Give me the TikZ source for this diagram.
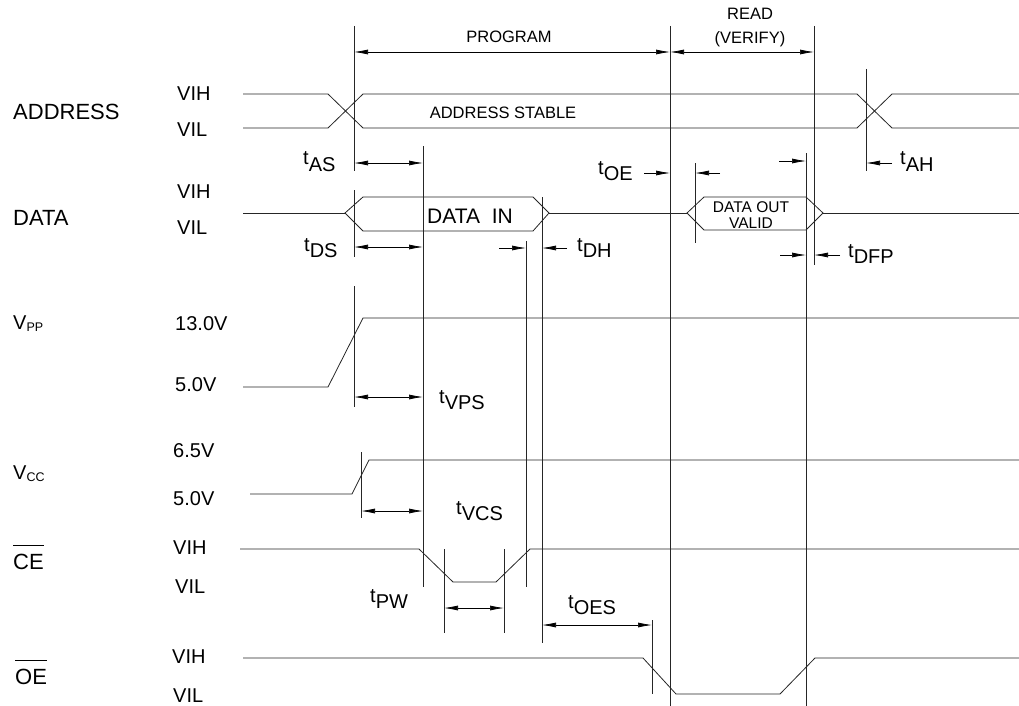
\documentclass[tikz,border=0pt]{standalone}
\usepackage{fontspec}
\setmainfont{Liberation Sans}
\usetikzlibrary{arrows.meta}
\newcommand{\fs}[1]{\fontsize{#1}{#1}\selectfont}
\newcommand{\tlab}[1]{\raisebox{6pt}{t}#1}
\newcommand{\vsub}[1]{V\raisebox{-2pt}{\fs{12.5}#1}}
\newcommand{\ovl}[1]{\setbox0\hbox{#1}\rlap{\raisebox{\dimexpr\ht0+8pt\relax}{\rule{\wd0}{0.9pt}}}\box0}

\begin{document}
\begin{tikzpicture}[x=1pt,y=-1pt,
        sig/.style={line width=0.8pt,draw=black!85},
        guide/.style={line width=0.7pt,draw=black!85},
        dim/.style={line width=0.7pt,{Latex[length=14pt,width=5pt]}-{Latex[length=14pt,width=5pt]}},
        arr/.style={line width=0.7pt,-{Latex[length=14pt,width=5pt]}},
        lbl/.style={inner sep=0pt,anchor=base west,font=\fs{20}},
        big/.style={inner sep=0pt,anchor=base west,font=\fs{22}},
        txt/.style={inner sep=0pt,anchor=base,font=\fs{16.5}}]
        \useasboundingbox (0,0) rectangle (1019,706);

        \draw (354,52) coordinate (pstart);
        \draw (670,52) coordinate (rstart);
        \draw (814,52) coordinate (rend);

        \node[big] (addr) at (13,120) {ADDRESS};
        \node[lbl] (addrh) at (177,101) {VIH};
        \node[lbl] (addrl) at (177,136) {VIL};
        \node[big] (data) at (13,225) {DATA};
        \node[lbl] (datah) at (177,198) {VIH};
        \node[lbl] (datal) at (177,234) {VIL};
        \node[lbl] (vpp) at (13,329) {\vsub{PP}};
        \node[lbl] (vpph) at (175,330) {13.0V};
        \node[lbl] (vppl) at (175,391) {5.0V};
        \node[lbl] (vcc) at (13,479) {\vsub{CC}};
        \node[lbl] (vcch) at (173,457) {6.5V};
        \node[lbl] (vccl) at (173,505) {5.0V};
        \node[big] (ce) at (13,569) {\ovl{CE}};
        \node[lbl] (ceh) at (173,554) {VIH};
        \node[lbl] (cel) at (175,593) {VIL};
        \node[big] (oe) at (15,684) {\ovl{OE}};
        \node[lbl] (oeh) at (172,663) {VIH};
        \node[lbl] (oel) at (173,702) {VIL};

        \node[txt] (prog) at (509,43) {PROGRAM};
        \node[txt] (read) at (750,20) {READ};
        \node[txt] (verify) at (750,44) {(VERIFY)};
        \node[txt] (stable) at (503,119) {ADDRESS STABLE};
        \node[txt,font=\fs{21}] (datain) at (470,223) {DATA\ \ IN};
        \node[txt,font=\fs{15.5}] (dout) at (751,212) {DATA OUT};
        \node[txt,font=\fs{15.5}] (dvalid) at (751,228) {VALID};

        \node[lbl] (tas) at (303,171) {\tlab{AS}};
        \node[lbl] (toe) at (598,180) {\tlab{OE}};
        \node[lbl] (tah) at (900,171) {\tlab{AH}};
        \node[lbl] (tds) at (304,257) {\tlab{DS}};
        \node[lbl] (tdh) at (577,257) {\tlab{DH}};
        \node[lbl] (tdfp) at (848,263) {\tlab{DFP}};
        \node[lbl] (tvps) at (439,409) {\tlab{VPS}};
        \node[lbl] (tvcs) at (456,520) {\tlab{VCS}};
        \node[lbl] (tpw) at (370,608) {\tlab{PW}};
        \node[lbl] (toes) at (568,614) {\tlab{OES}};

        % waveforms
        \draw[sig] (243,94)--(328,94)--(363,128)--(857,128)--(892,94)--(1019,94);
        \draw[sig] (243,128)--(328,128)--(363,94)--(857,94)--(892,128)--(1019,128);
        \draw[sig] (243,213)--(345,213);
        \draw[sig] (345,213)--(363,197)--(533,197)--(549,213)--(533,231)--(363,231)--cycle;
        \draw[sig] (549,213)--(687,213);
        \draw[sig] (687,213)--(704,197)--(806,197)--(823,213)--(806,230)--(704,230)--cycle;
        \draw[sig] (823,213)--(1019,213);
        \draw[sig] (243,387)--(328,387)--(363,318)--(1019,318);
        \draw[sig] (250,494)--(352,494)--(369,460)--(1019,460);
        \draw[sig] (240,549)--(419,549)--(453,582)--(496,582)--(530,549)--(1019,549);
        \draw[sig] (243,658)--(643,658)--(676,694)--(780,694)--(815,658)--(1019,658);

        % guide lines
        \draw[guide] (354,26)--(354,171);
        \draw[guide] (354,190)--(354,257);
        \draw[guide] (354,286)--(354,407);
        \draw[guide] (670,26)--(670,706);
        \draw[guide] (814,26)--(814,265);
        \draw[guide] (866,69)--(866,171);
        \draw[guide] (423,146)--(423,587);
        \draw[guide] (695,163)--(695,243);
        \draw[guide] (806,153)--(806,706);
        \draw[guide] (526,241)--(526,587);
        \draw[guide] (542,197)--(542,643);
        \draw[guide] (361,452)--(361,518);
        \draw[guide] (444,549)--(444,633);
        \draw[guide] (504,549)--(504,633);
        \draw[guide] (652,620)--(652,694);

        % timing arrows
        \draw[dim] (pstart)--(rstart);
        \draw[dim] (rstart)--(rend);
        \draw[dim] (354,163)--(423,163);
        \draw[arr] (644,173)--(670,173);
        \draw[arr] (720,173)--(695,173);
        \draw[arr] (779,161)--(806,161);
        \draw[arr] (892,163)--(866,163);
        \draw[dim] (354,247)--(423,247);
        \draw[arr] (499,248)--(526,248);
        \draw[arr] (567,248)--(542,248);
        \draw[arr] (780,255)--(806,255);
        \draw[arr] (840,255)--(814,255);
        \draw[dim] (354,397)--(423,397);
        \draw[dim] (361,511)--(423,511);
        \draw[dim] (444,608)--(504,608);
        \draw[dim] (542,625)--(652,625);
\end{tikzpicture}
\end{document}
